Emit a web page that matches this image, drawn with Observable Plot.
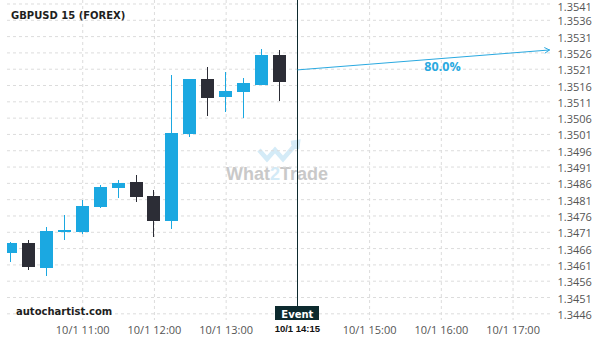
<!DOCTYPE html>
<html>
<head>
<meta charset="utf-8">
<script src="https://cdn.jsdelivr.net/npm/d3@7"></script>
<script src="https://cdn.jsdelivr.net/npm/@observablehq/plot@0.6"></script>
<style>
  html, body { margin: 0; padding: 0; background: #fff; }
  #chart svg { display: block; }
</style>
</head>
<body>
<div id="chart"></div>
<script>
// ---- data ----
const title = "GBPUSD 15 (FOREX)";
const source = "autochartist.com";
const candleTimes = ["10:00","10:15","10:30","10:45","11:00","11:15","11:30","11:45",
                     "12:00","12:15","12:30","12:45","13:00","13:15","13:30","13:45"];
const opens  = [1.34645,1.34674,1.34602,1.34712,1.34711,1.34788,1.34846,1.34861,
                1.34818,1.34744,1.35010,1.35178,1.35126,1.35139,1.35163,1.35249];
const highs  = [1.34680,1.34686,1.34726,1.34760,1.34808,1.34854,1.34870,1.34885,
                1.34838,1.35191,1.35178,1.35215,1.35199,1.35181,1.35270,1.35266];
const lows   = [1.34617,1.34593,1.34575,1.34686,1.34704,1.34783,1.34814,1.34800,
                1.34693,1.34718,1.35002,1.35066,1.35077,1.35060,1.35159,1.35110];
const closes = [1.34674,1.34605,1.34711,1.34713,1.34787,1.34845,1.34858,1.34819,
                1.34744,1.35010,1.35178,1.35123,1.35139,1.35164,1.35252,1.35170];
const yTicks = [1.3446,1.3451,1.3456,1.3461,1.3466,1.3471,1.3476,1.3481,1.3486,1.3491,
                1.3496,1.3501,1.3506,1.3511,1.3516,1.3521,1.3526,1.3531,1.3536,1.3541];
const xTickTimes = ["11:00","12:00","13:00","15:00","16:00","17:00"];
const eventTime = "14:00";
const eventLabel = "10/1 14:15";
const eventTag = "Event";
const forecastStart = {time: "14:00", price: 1.35208};
const forecastEnd   = {time: "17:30:30", price: 1.35269};
const forecastLabel = {time: "16:01", price: 1.35217, text: "80.0%"};
const xDomainTimes = ["09:57:04", "17:33:51"];
const yDomain = [1.344395, 1.354207];

// ---- helpers ----
const T = s => new Date("2020-10-01T" + (s.length === 5 ? s + ":00" : s) + "Z");
const candles = candleTimes.map((t, i) => ({
  t: T(t), open: opens[i], high: highs[i], low: lows[i], close: closes[i]
}));
const UP = "#1ba8e1", DOWN = "#2c2d36", ACCENT = "#2aa9e0";
const pxPerMs = 17.93 / (15 * 60 * 1000);
const halfW = 6.5 / pxPerMs; // half body width, 13px
const fmt = d3.utcFormat("%-m/%-d %H:%M");
const grid = {stroke: "#dcdcdc", strokeOpacity: 1, strokeDasharray: "3,3"};
const colorOf = d => d.close >= d.open ? UP : DOWN;
const yAxisStyle = {anchor: "right", tickSize: 0, tickPadding: 4, label: null,
  tickFormat: d => d.toFixed(4), fill: "#555", fontSize: 11};

const plot = Plot.plot({
  width: 600, height: 340,
  marginTop: 0, marginBottom: 20, marginLeft: 7, marginRight: 47,
  style: {fontFamily: "'Open Sans', sans-serif", fontSize: "11px", background: "#fff"},
  x: {type: "utc", domain: xDomainTimes.map(T)},
  y: {domain: yDomain},
  marks: [
    Plot.gridY(yTicks, grid),
    Plot.gridX(xTickTimes.map(T), grid),
    Plot.axisY(yTicks.slice(0, -1), {...yAxisStyle, dy: 1.5}),
    Plot.axisY(yTicks.slice(-1), {...yAxisStyle, dy: 3.5}),
    Plot.axisX(xTickTimes.map(T), {tickSize: 0, tickPadding: 6, label: null,
      tickFormat: fmt, fill: "#555", fontSize: 11}),
    Plot.ruleX(candles, {x: "t", y1: "low", y2: "high", stroke: colorOf, strokeWidth: 1,
      dx: -0.5, shapeRendering: "crispEdges", clip: true}),
    Plot.rect(candles, {
      x1: d => new Date(+d.t - halfW), x2: d => new Date(+d.t + halfW),
      y1: "open", y2: "close", fill: colorOf, insetTop: -0.5, insetBottom: -0.5,
      shapeRendering: "crispEdges", clip: true
    }),
    Plot.ruleX([T(eventTime)], {stroke: "#0d2a2e", strokeWidth: 1, insetBottom: 14,
      shapeRendering: "crispEdges"}),
    Plot.arrow([0], {
      x1: () => T(forecastStart.time), y1: () => forecastStart.price,
      x2: () => T(forecastEnd.time), y2: () => forecastEnd.price,
      stroke: ACCENT, strokeWidth: 1, headLength: 8, bend: 0
    }),
    Plot.text([forecastLabel], {
      x: d => T(d.time), y: "price", text: "text", fill: ACCENT,
      fontWeight: "bold", fontSize: 12.5
    })
  ]
});

document.getElementById("chart").append(plot);

// ---- decorations ----
const svg = d3.select(plot);
const ex = plot.scale("x").apply(T(eventTime));

// watermark (behind marks)
const wm = svg.insert("g", "g").attr("pointer-events", "none");
wm.append("path")
  .attr("d", "M259,150 L267,159 L275,150 L283,159 L297,143 M291,143 L298,142 L297,149")
  .attr("fill", "none").attr("stroke", "#d4ebf7").attr("stroke-width", 4.5)
  .attr("stroke-linejoin", "miter");
const wt = wm.append("text").attr("x", 277).attr("y", 179.5)
  .attr("text-anchor", "middle")
  .attr("font-family", "'Liberation Sans', Arial, sans-serif")
  .attr("font-weight", "bold").attr("font-size", 18).attr("fill", "#c9c9c9");
wt.append("tspan").text("What");
wt.append("tspan").attr("fill", "#d4ebf7").text("2");
wt.append("tspan").text("Trade");

// title & source
svg.append("text").attr("x", 11).attr("y", 18.5).attr("text-anchor", "start")
  .attr("font-family", "'DejaVu Sans', sans-serif").attr("font-weight", "bold")
  .attr("font-size", 10).attr("fill", "#1e1e1e").text(title);
svg.append("text").attr("x", 16).attr("y", 315).attr("text-anchor", "start")
  .attr("font-family", "'DejaVu Sans', sans-serif").attr("font-weight", "bold")
  .attr("font-size", 10).attr("fill", "#1e1e1e").text(source);

// event tag
svg.append("rect").attr("x", Math.round(ex) - 22).attr("y", 306).attr("width", 44).attr("height", 14)
  .attr("fill", "#0d2a2e");
svg.append("text").attr("x", ex).attr("y", 317.5).attr("text-anchor", "middle")
  .attr("font-family", "'DejaVu Sans', sans-serif").attr("font-weight", "bold")
  .attr("font-size", 10).attr("fill", "#fff").text(eventTag);
svg.append("text").attr("x", ex).attr("y", 332).attr("text-anchor", "middle")
  .attr("font-family", "'Liberation Sans', Arial, sans-serif").attr("font-weight", "bold")
  .attr("font-size", 9.5).attr("fill", "#111").text(eventLabel);
</script>
</body>
</html>
